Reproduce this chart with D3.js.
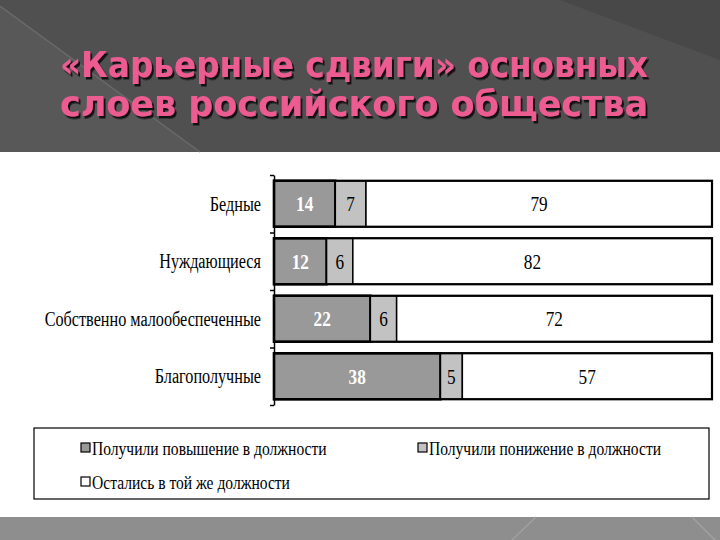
<!DOCTYPE html>
<html><head><meta charset="utf-8">
<script src="https://cdn.jsdelivr.net/npm/d3@7"></script>
<style>html,body{margin:0;padding:0;background:#fff;}svg{display:block;}</style>
</head><body>
<svg id="c" width="720" height="540"></svg>
<script>
const titleLines = ["«Карьерные сдвиги» основных", "слоев российского общества"];
const categories = ["Бедные", "Нуждающиеся", "Собственно малообеспеченные", "Благополучные"];
const seriesNames = ["Получили повышение в должности", "Получили понижение в должности", "Остались в той же должности"];
const promoted = [14, 12, 22, 38];
const demoted = [7, 6, 6, 5];
const same = [79, 82, 72, 57];
const seriesColors = ["#999999", "#c2c2c2", "#ffffff"];
const textColors = ["#ffffff", "#000000", "#000000"];

const svg = d3.select("#c");
const defs = svg.append("defs");
defs.append("filter").attr("id","sh").attr("x","-5%").attr("y","-20%").attr("width","110%").attr("height","140%")
  .append("feDropShadow").attr("dx",2).attr("dy",2.5).attr("stdDeviation",0.6).attr("flood-color","#111").attr("flood-opacity",0.95);

// header background
svg.append("rect").attr("x",0).attr("y",0).attr("width",720).attr("height",152).attr("fill","#505050");
svg.append("path").attr("d","M0,6 L200,152 L0,152 Z").attr("fill","#585858");
svg.append("line").attr("x1",0).attr("y1",6).attr("x2",200).attr("y2",152).attr("stroke","#6a6a6a").attr("stroke-width",1.5);
svg.append("path").attr("d","M560,0 L720,0 L720,60 Z").attr("fill","#484848");
// bottom band
svg.append("rect").attr("x",0).attr("y",517).attr("width",720).attr("height",23).attr("fill","#8e8e8e");
svg.append("line").attr("x1",512).attr("y1",540).attr("x2",536).attr("y2",517).attr("stroke","#a0a0a0").attr("stroke-width",1.5);
svg.append("line").attr("x1",692).attr("y1",517).attr("x2",715).attr("y2",540).attr("stroke","#a0a0a0").attr("stroke-width",1.5);

// title
const tg = svg.append("g").attr("filter","url(#sh)");
const titleY = [77, 116];
titleLines.forEach((t,i)=>{
  tg.append("text").attr("x",60).attr("y",titleY[i]).text(t)
    .attr("font-family","'DejaVu Sans', sans-serif").attr("font-size",36).attr("font-weight","bold")
    .attr("textLength",588).attr("lengthAdjust","spacingAndGlyphs").attr("fill","#ec5b91");
});

// scales
const x = d3.scaleLinear().domain([0,100]).range([274,712]);
const y = d3.scaleBand().domain(categories).range([175,405]).paddingInner(0.2).paddingOuter(0.1);
const yTick = d3.scaleLinear().domain([0, categories.length]).range([175,405]);

// axis
const axis = d3.axisLeft(yTick).tickValues(d3.range(categories.length+1)).tickFormat("").tickSize(4).tickSizeOuter(0);
const ag = svg.append("g").attr("transform","translate(274,0)").call(axis);
ag.select(".domain").attr("stroke","#000").attr("stroke-width",1.5);
ag.selectAll(".tick line").attr("stroke","#000").attr("stroke-width",1.5);

// category labels
svg.append("g").selectAll("text").data(categories).join("text")
  .attr("transform", d => `translate(261,${y(d)+y.bandwidth()/2}) scale(0.81,1)`)
  .attr("text-anchor","end").attr("dy","0.35em")
  .attr("font-family","'Liberation Serif', serif").attr("font-size",20).attr("fill","#000")
  .text(d=>d);

// stacked data
const rows = categories.map((c,i)=>({cat:c, v:[promoted[i], demoted[i], same[i]]}));
const segs = [];
rows.forEach(r=>{
  let acc = 0;
  r.v.forEach((v,k)=>{ segs.push({cat:r.cat, k, x0:acc, x1:acc+v, v}); acc += v; });
});

const bg = svg.append("g");
bg.selectAll("rect.seg").data(segs).join("rect").attr("class","seg")
  .attr("x",d=>x(d.x0)).attr("width",d=>x(d.x1)-x(d.x0))
  .attr("y",d=>y(d.cat)).attr("height",y.bandwidth())
  .attr("fill",d=>seriesColors[d.k]).attr("stroke","#000").attr("stroke-width",d=>d.k===0?2.5:1.5);
bg.selectAll("rect.out").data(rows).join("rect").attr("class","out")
  .attr("x",x(0)).attr("width",x(100)-x(0)).attr("y",d=>y(d.cat)).attr("height",y.bandwidth())
  .attr("fill","none").attr("stroke","#000").attr("stroke-width",2.2);

bg.selectAll("text").data(segs).join("text")
  .attr("transform",d=>`translate(${(x(d.x0)+x(d.x1))/2},${y(d.cat)+y.bandwidth()/2}) scale(0.82,1)`)
  .attr("text-anchor","middle").attr("dy","0.35em")
  .attr("font-family","'Liberation Serif', serif").attr("font-size",21)
  .attr("font-weight",d=>d.k===0?"bold":"normal")
  .attr("fill",d=>textColors[d.k]).text(d=>d.v);

// legend
svg.append("rect").attr("x",34).attr("y",428).attr("width",675).attr("height",71)
  .attr("fill","#fff").attr("stroke","#000").attr("stroke-width",1.2);
const legPos = [[81,448],[418,448],[81,482]];
const lg = svg.append("g").selectAll("g").data(seriesNames).join("g")
  .attr("transform",(d,i)=>`translate(${legPos[i][0]},${legPos[i][1]})`);
lg.append("rect").attr("x",0).attr("y",-5).attr("width",9).attr("height",9)
  .attr("fill",(d,i)=>seriesColors[i]).attr("stroke","#000").attr("stroke-width",1.2);
lg.append("text").attr("transform","translate(11,0) scale(0.82,1)").attr("dy","0.35em")
  .attr("font-family","'Liberation Serif', serif").attr("font-size",19).attr("fill","#000")
  .text(d=>d);
</script>
</body></html>
